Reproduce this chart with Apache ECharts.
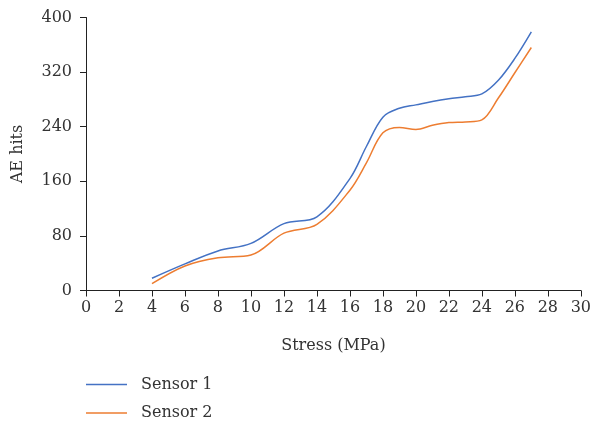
<!DOCTYPE html>
<html>
<head>
<meta charset="utf-8">
<script src="https://cdn.jsdelivr.net/npm/echarts@6/dist/echarts.min.js"></script>
<style>html,body{margin:0;padding:0;background:#fff;}#c{width:594px;height:421px;}</style>
</head>
<body>
<div id="c"></div>
<script>
const stress = [4, 6, 8, 10, 12, 14, 16, 17, 18, 19, 20, 21, 22, 23, 24, 25, 26, 27];
const sensor1 = [18, 39, 58, 69, 98, 108, 164, 211, 254, 267, 272, 277, 281, 284, 288, 308, 340, 379];
const sensor2 = [10, 36, 48, 52, 84, 97, 147, 187, 231, 239, 236, 242, 246, 247, 250, 282, 319, 356];
const seriesNames = ['Sensor 1', 'Sensor 2'];
const xTicks = {min: 0, max: 30, interval: 2};
const yTicks = {min: 0, max: 400, interval: 80};

const FONT = 'DejaVu Serif';
const TXT = '#333333';
const AX = '#222222';
const COLORS = ['#4472C4', '#ED7D31'];
const chart = echarts.init(document.getElementById('c'), null, {renderer: 'canvas'});
chart.setOption({
  animation: false,
  backgroundColor: '#ffffff',
  grid: {left: 86, right: 10, top: 17.5, bottom: 130.5, containLabel: false},
  legend: {
    orient: 'vertical', left: 86, top: 376.5, padding: 0, height: 44.5,
    itemWidth: 41, itemHeight: 1.5, itemGap: 12.4, icon: 'rect',
    data: seriesNames,
    textStyle: {fontFamily: FONT, fontSize: 16, color: TXT, lineHeight: 16, padding: [0, 0, 0, 9]}
  },
  xAxis: {
    type: 'value', min: xTicks.min, max: xTicks.max, interval: xTicks.interval,
    name: 'Stress (MPa)', nameLocation: 'middle', nameGap: 47,
    nameTextStyle: {fontFamily: FONT, fontSize: 16, color: TXT},
    axisLine: {show: true, lineStyle: {color: AX, width: 1}},
    axisTick: {show: true, inside: false, length: 6, lineStyle: {color: AX}},
    axisLabel: {fontFamily: FONT, fontSize: 16, color: TXT, margin: 9},
    splitLine: {show: false}
  },
  yAxis: {
    type: 'value', min: yTicks.min, max: yTicks.max, interval: yTicks.interval,
    name: 'AE hits', nameLocation: 'middle', nameGap: 60, nameRotate: 90,
    nameTextStyle: {fontFamily: FONT, fontSize: 16, color: TXT},
    axisLine: {show: true, lineStyle: {color: AX, width: 1}},
    axisTick: {show: true, inside: false, length: 6, lineStyle: {color: AX}},
    axisLabel: {fontFamily: FONT, fontSize: 16, color: TXT, margin: 14},
    splitLine: {show: false}
  },
  series: [
    {name: seriesNames[0], type: 'line', smooth: 0.35, symbol: 'none', showSymbol: false,
     lineStyle: {color: COLORS[0], width: 1.5}, itemStyle: {color: COLORS[0]},
     data: stress.map((x, i) => [x, sensor1[i]])},
    {name: seriesNames[1], type: 'line', smooth: 0.35, symbol: 'none', showSymbol: false,
     lineStyle: {color: COLORS[1], width: 1.5}, itemStyle: {color: COLORS[1]},
     data: stress.map((x, i) => [x, sensor2[i]])}
  ]
});
</script>
</body>
</html>
